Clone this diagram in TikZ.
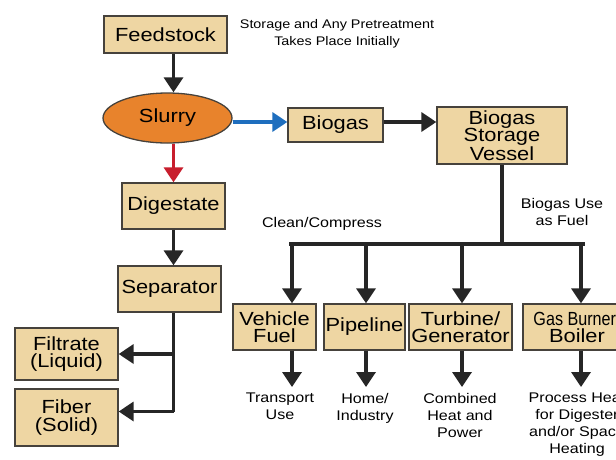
\documentclass[tikz,border=0pt]{standalone}
\usepackage{fontspec}
\setmainfont{Liberation Sans}[FakeStretch=1.15]
\newfontfamily\condfont{Liberation Sans}[FakeStretch=0.85]
\usetikzlibrary{positioning, calc, arrows.meta, shapes.geometric}

\begin{document}
\begin{tikzpicture}[
  x=1pt, y=-1pt,
  every node/.style={
    align=center,
    inner sep=0pt,
  },
  box/.style={
    draw=edgegray,
    line width=1.3pt,
    fill=tan,
    font=\fontsize{19}{17.5}\selectfont,
  },
  note/.style={
    font=\fontsize{14}{17}\selectfont,
  },
  link/.style={
    line width=3.5pt,
    draw=black!85,
  },
  arr/.style={
    link,
    -{Triangle[width=19pt, length=15pt]},
  },
]
  \definecolor{tan}{RGB}{238,214,163}
  \definecolor{edgegray}{RGB}{70,66,60}
  \definecolor{slurryorange}{RGB}{232,131,44}
  \definecolor{gasblue}{RGB}{30,110,190}
  \definecolor{digestred}{RGB}{200,30,45}

  \useasboundingbox (0,0) rectangle (616,459);
  \clip (0,0) rectangle (616,459);

  % left column
  \node[box, minimum width=123pt, minimum height=37pt] (feed) at (165.5,34.5) {Feedstock};
  \node[note, font=\fontsize{12.5}{17}\selectfont] (pretreat) at (337,34) {Storage and Any Pretreatment\\Takes Place Initially};
  \node[box, ellipse, fill=slurryorange, minimum width=129pt, minimum height=50pt] (slurry) at (167.5,118) {Slurry};
  \node[box, minimum width=103pt, minimum height=46pt] (digest) at (173.5,206) {Digestate};
  \node[box, minimum width=103pt, minimum height=46pt] (sep) at (169.5,289) {Separator};
  \node[box, minimum width=103pt, minimum height=52pt] (filtrate) at (66.5,354) {Filtrate\\(Liquid)};
  \node[box, minimum width=103pt, minimum height=57pt] (fiber) at (66.5,417.5) {Fiber\\(Solid)};

  % gas path
  \node[box, minimum width=95pt, minimum height=34pt] (biogas) at (335.5,125) {Biogas};
  \node[box, minimum width=130pt, minimum height=57pt] (vessel) at (502,135.5) {Biogas\\Storage\\Vessel};
  \node[note] (compress) at (322,224) {Clean/Compress};
  \node[note] (fueluse) at (562,212) {Biogas Use\\as Fuel};

  % uses
  \node[box, minimum width=83pt, minimum height=46pt] (vehicle) at (274.5,327) {Vehicle\\Fuel};
  \node[box, minimum width=81pt, minimum height=46pt] (pipe) at (364.5,327) {Pipeline};
  \node[box, minimum width=103pt, minimum height=46pt] (turbine) at (460.5,327) {Turbine/\\Generator};
  \node[box, minimum width=108pt, minimum height=46pt] (burner) at (577,327) {{\condfont Gas Burner/}\\Boiler};

  \node[note, anchor=north] (transport) at (280,393) {Transport\\Use};
  \node[note, anchor=north] (home) at (365,393) {Home/\\Industry};
  \node[note, anchor=north] (chp) at (460,393) {Combined\\Heat and\\Power};
  \node[note, anchor=north] (heat) at (577,393) {Process Heat\\for Digester\\and/or Space\\Heating};

  \coordinate (b1) at (292,244);
  \coordinate (b2) at (366,244);
  \coordinate (b3) at (462,244);
  \coordinate (b4) at (581,244);
  \coordinate (trunk) at (vessel.south |- b1);

  % connectors
  \draw[arr] (feed.south -| digest.north) -- (slurry.north -| digest.north);
  \draw[arr, draw=digestred] (slurry.south -| digest.north) -- (digest.north);
  \draw[arr] (digest.south) -- (sep.north -| digest.south);
  \draw[link] (sep.south -| digest.south) -- ([yshift=6pt]fiber.east -| digest.south);
  \draw[arr] (filtrate.east -| digest.south) -- (filtrate.east);
  \draw[arr] ([yshift=6pt]fiber.east -| digest.south) -- ([yshift=6pt]fiber.east);

  \draw[arr, draw=gasblue] ([yshift=-4pt]slurry.east) -- ([yshift=-4pt]slurry.east -| biogas.west);
  \draw[arr] ([yshift=3pt]biogas.east) -- ([yshift=3pt]biogas.east -| vessel.west);
  \draw[link] (vessel.south) -- (trunk);
  \draw[link, line cap=rect] ([xshift=-1.75pt]b1) -- ([xshift=1.75pt]b4);

  \draw[arr] (b1) -- (b1 |- vehicle.north);
  \draw[arr] (b2) -- (b2 |- pipe.north);
  \draw[arr] (b3) -- (b3 |- turbine.north);
  \draw[arr] (b4) -- (b4 |- burner.north);

  \draw[arr] (vehicle.south -| b1) -- ([yshift=6pt]transport.north -| b1);
  \draw[arr] (pipe.south -| b2) -- ([yshift=6pt]home.north -| b2);
  \draw[arr] (turbine.south -| b3) -- ([yshift=6pt]chp.north -| b3);
  \draw[arr] (burner.south -| b4) -- ([yshift=6pt]heat.north -| b4);
\end{tikzpicture}
\end{document}
